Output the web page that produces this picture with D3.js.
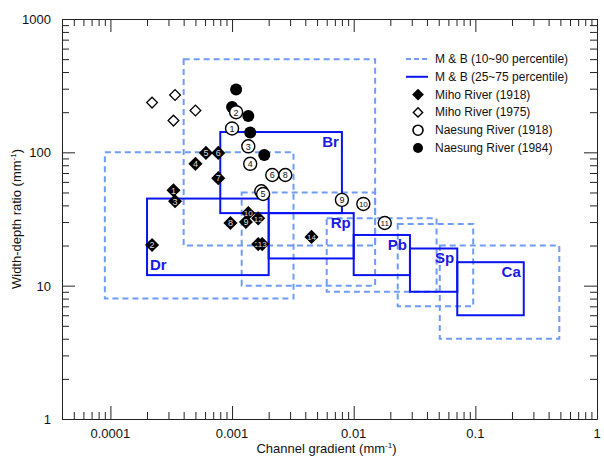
<!DOCTYPE html>
<html>
<head>
<meta charset="utf-8">
<script src="https://cdn.jsdelivr.net/npm/d3@7"></script>
<style>
  body { margin: 0; background: #fff; }
  svg { font-family: "Liberation Sans", Arial, sans-serif; }
</style>
</head>
<body>
<div id="chart"></div>
<script>
// M & B channel classes
var classes = ["Dr", "Br", "Rp", "Pb", "Sp", "Ca"];
// 10~90 percentile boxes
var p10x = [0.00009, 0.0004, 0.0012, 0.006, 0.023, 0.051];
var p90x = [0.0032, 0.015, 0.015, 0.048, 0.096, 0.49];
var p10y = [8, 20, 10, 9, 7, 4];
var p90y = [100, 500, 50, 32, 29, 20];
// 25~75 percentile boxes
var p25x = [0.0002, 0.0008, 0.002, 0.01, 0.029, 0.071];
var p75x = [0.002, 0.008, 0.01, 0.029, 0.071, 0.25];
var p25y = [12, 35, 16, 12, 9, 6];
var p75y = [45, 142, 35, 24, 19, 15];

// Miho River (1918)
var miho18Id = ["1", "2", "3", "4", "5", "6", "7", "8", "9", "10", "11", "12", "13", "14"];
var miho18X = [0.00033, 0.00022, 0.00034, 0.0005, 0.00061, 0.00077, 0.00077, 0.00097, 0.0013, 0.00136, 0.00164, 0.00164, 0.00177, 0.0045];
var miho18Y = [52, 20.2, 43, 82, 99, 99, 64, 29.5, 30, 35, 20.5, 32, 20.5, 23.2];
// Miho River (1975)
var miho75X = [0.00022, 0.00034, 0.00033, 0.0005];
var miho75Y = [236, 269, 173, 206];
// Naesung River (1918)
var nae18Id = ["1", "2", "3", "4", "7", "5", "6", "8", "9", "10", "11"];
var nae18X = [0.001, 0.00108, 0.00136, 0.00141, 0.00174, 0.0018, 0.00214, 0.00274, 0.008, 0.012, 0.018];
var nae18Y = [151, 200, 111, 82, 51, 48.7, 67.6, 67.6, 44, 41, 29.5];
// Naesung River (1984)
var nae84X = [0.00108, 0.001, 0.00136, 0.00141, 0.00184];
var nae84Y = [296, 219, 187, 141, 95.5];

var xTickVals = [0.0001, 0.001, 0.01, 0.1, 1];
var xTickLabels = ["0.0001", "0.001", "0.01", "0.1", "1"];
var yTickVals = [1, 10, 100, 1000];
var yTickLabels = ["1", "10", "100", "1000"];

var W = 604, H = 457;
var m = {left: 62, top: 19, right: 7, bottom: 38};
var w = W - m.left - m.right, h = H - m.top - m.bottom;

var dashBlue = "#6f9cf5", solidBlue = "#0a14f0", labelBlue = "#1a1ae6";

var svg = d3.select("#chart").append("svg").attr("width", W).attr("height", H);
var g = svg.append("g").attr("transform", "translate(" + m.left + "," + m.top + ")");

var x = d3.scaleLog().domain([4e-5, 1]).range([0, w]);
var y = d3.scaleLog().domain([1, 1000]).range([h, 0]);

// axes with inward ticks on all four sides
function isMajor(v) { return Math.abs(Math.log10(v) - Math.round(Math.log10(v))) < 1e-6; }
var xt = x.ticks(), yt = y.ticks();
var sides = [
  {ax: d3.axisBottom(x), tr: "translate(0," + h + ")", ticks: xt, sign: -1, vert: true},
  {ax: d3.axisTop(x), tr: "translate(0,0)", ticks: xt, sign: 1, vert: true},
  {ax: d3.axisLeft(y), tr: "translate(0,0)", ticks: yt, sign: 1, vert: false},
  {ax: d3.axisRight(y), tr: "translate(" + w + ",0)", ticks: yt, sign: -1, vert: false}
];
sides.forEach(function (s) {
  var a = g.append("g").attr("transform", s.tr)
    .call(s.ax.tickValues(s.ticks).tickSizeOuter(0).tickFormat(function () { return ""; }));
  a.select(".domain").attr("stroke", "#222");
  a.selectAll(".tick line")
    .attr("stroke", "#222")
    .attr(s.vert ? "y2" : "x2", function (d) {
      var len = isMajor(d) ? 13 : 7;
      return s.sign * len;
    });
  a.selectAll(".tick text").remove();
});

// tick labels
g.selectAll(".xlab").data(xTickVals).enter().append("text")
  .attr("x", function (d) { return x(d); })
  .attr("y", h + 19)
  .attr("text-anchor", "middle")
  .attr("font-size", 13)
  .attr("fill", "#111")
  .text(function (d, i) { return xTickLabels[i]; });
g.selectAll(".ylab").data(yTickVals).enter().append("text")
  .attr("x", -11)
  .attr("y", function (d) { return y(d) + 5; })
  .attr("text-anchor", "end")
  .attr("font-size", 13)
  .attr("fill", "#111")
  .text(function (d, i) { return yTickLabels[i]; });

// axis titles
var xTitle = svg.append("text")
  .attr("x", m.left + w / 2 - 3).attr("y", H - 4)
  .attr("text-anchor", "middle").attr("font-size", 13).attr("fill", "#111");
xTitle.append("tspan").text("Channel gradient (mm");
xTitle.append("tspan").attr("font-size", 8).attr("dy", -5).text("-1");
xTitle.append("tspan").attr("dy", 5).text(")");

var yTitle = svg.append("text")
  .attr("transform", "translate(21," + (m.top + h / 2) + ") rotate(-90)")
  .attr("text-anchor", "middle").attr("font-size", 13).attr("fill", "#111");
yTitle.append("tspan").text("Width-depth ratio (mm");
yTitle.append("tspan").attr("font-size", 8).attr("dy", -5).text("-1");
yTitle.append("tspan").attr("dy", 5).text(")");

// boxes
var idx = d3.range(classes.length);
g.selectAll(".outer").data(idx).enter().append("rect")
  .attr("x", function (i) { return x(p10x[i]); })
  .attr("y", function (i) { return y(p90y[i]); })
  .attr("width", function (i) { return x(p90x[i]) - x(p10x[i]); })
  .attr("height", function (i) { return y(p10y[i]) - y(p90y[i]); })
  .attr("fill", "none").attr("stroke", dashBlue).attr("stroke-width", 2)
  .attr("stroke-dasharray", "6,4");
g.selectAll(".inner").data(idx).enter().append("rect")
  .attr("x", function (i) { return x(p25x[i]); })
  .attr("y", function (i) { return y(p75y[i]); })
  .attr("width", function (i) { return x(p75x[i]) - x(p25x[i]); })
  .attr("height", function (i) { return y(p25y[i]) - y(p75y[i]); })
  .attr("fill", "none").attr("stroke", solidBlue).attr("stroke-width", 2);
g.selectAll(".cls").data(idx).enter().append("text")
  .attr("x", function (i) { return i === 0 ? x(p25x[i]) + 3 : x(p75x[i]) - 3; })
  .attr("y", function (i) { return i === 0 ? y(p25y[i]) - 5 : y(p75y[i]) + 15; })
  .attr("text-anchor", function (i) { return i === 0 ? "start" : "end"; })
  .attr("font-size", 15).attr("font-weight", "bold").attr("fill", labelBlue)
  .text(function (i) { return classes[i]; });

// Miho 1975 open diamonds
g.selectAll(".m75").data(miho75X).enter().append("rect")
  .attr("x", -3.8).attr("y", -3.8).attr("width", 7.6).attr("height", 7.6)
  .attr("transform", function (d, i) { return "translate(" + x(d) + "," + y(miho75Y[i]) + ") rotate(45)"; })
  .attr("fill", "#fff").attr("stroke", "#000").attr("stroke-width", 1.3);

// Naesung 1984 filled circles
g.selectAll(".n84").data(nae84X).enter().append("circle")
  .attr("cx", function (d) { return x(d); })
  .attr("cy", function (d, i) { return y(nae84Y[i]); })
  .attr("r", 6).attr("fill", "#000");

// Naesung 1918 open circles with numbers
var n18 = g.selectAll(".n18").data(nae18X).enter().append("g")
  .attr("transform", function (d, i) { return "translate(" + x(d) + "," + y(nae18Y[i]) + ")"; });
n18.append("circle").attr("r", 6.5).attr("fill", "#fff").attr("stroke", "#000").attr("stroke-width", 1.4);
n18.append("text").attr("text-anchor", "middle").attr("y", 3.3)
  .attr("font-size", function (d, i) { return nae18Id[i].length > 1 ? 8 : 9; })
  .attr("fill", "#111")
  .text(function (d, i) { return nae18Id[i]; });

// Miho 1918 filled diamonds with numbers
var m18 = g.selectAll(".m18").data(miho18X).enter().append("g")
  .attr("transform", function (d, i) { return "translate(" + x(d) + "," + y(miho18Y[i]) + ")"; });
m18.append("rect").attr("x", -5).attr("y", -5).attr("width", 10).attr("height", 10)
  .attr("transform", "rotate(45)").attr("fill", "#000");
m18.append("text").attr("text-anchor", "middle").attr("y", 3.3)
  .attr("font-size", function (d, i) { return miho18Id[i].length > 1 ? 8 : 9; })
  .attr("fill", "#ddd")
  .text(function (d, i) { return miho18Id[i]; });

// legend
var legItems = ["M & B (10~90 percentile)", "M & B (25~75 percentile)", "Miho River (1918)",
  "Miho River (1975)", "Naesung River (1918)", "Naesung River (1984)"];
var leg = svg.append("g").attr("transform", "translate(406,59)");
legItems.forEach(function (t, i) {
  var row = leg.append("g").attr("transform", "translate(0," + (i * 17.8) + ")");
  if (i === 0) row.append("line").attr("x1", 0).attr("x2", 22).attr("stroke", dashBlue).attr("stroke-width", 2).attr("stroke-dasharray", "5,3");
  if (i === 1) row.append("line").attr("x1", 0).attr("x2", 22).attr("stroke", solidBlue).attr("stroke-width", 2);
  if (i === 2) row.append("rect").attr("x", -4.2).attr("y", -4.2).attr("width", 8.4).attr("height", 8.4).attr("transform", "translate(12,0) rotate(45)").attr("fill", "#000");
  if (i === 3) row.append("rect").attr("x", -3.3).attr("y", -3.3).attr("width", 6.6).attr("height", 6.6).attr("transform", "translate(12,0) rotate(45)").attr("fill", "#fff").attr("stroke", "#000").attr("stroke-width", 1.4);
  if (i === 4) row.append("circle").attr("cx", 12).attr("r", 5).attr("fill", "#fff").attr("stroke", "#000").attr("stroke-width", 1.6);
  if (i === 5) row.append("circle").attr("cx", 12).attr("r", 5).attr("fill", "#000");
  row.append("text").attr("x", 29).attr("y", 4).attr("font-size", 12).attr("fill", "#111").text(t);
});
</script>
</body>
</html>
